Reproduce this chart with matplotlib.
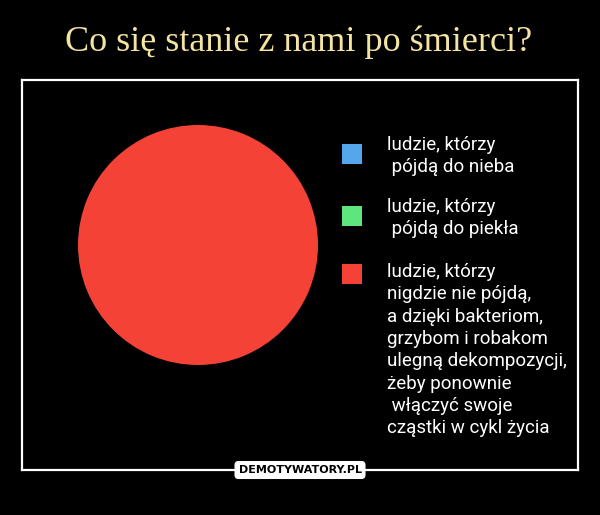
import matplotlib.pyplot as plt
from matplotlib.patches import Rectangle

# chart data
title = "Co się stanie z nami po śmierci?"
labels = [
    "ludzie, którzy\n pójdą do nieba",
    "ludzie, którzy\n pójdą do piekła",
    "ludzie, którzy\nnigdzie nie pójdą,\na dzięki bakteriom,\ngrzybom i robakom\n"
    "ulegną dekompozycji,\nżeby ponownie\n włączyć swoje\ncząstki w cykl życia",
]
values = [0, 0, 100]
colors = ["#56a6ee", "#5ee57e", "#f44336"]
watermark = "DEMOTYWATORY.PL"

W, H = 600, 515


def px(x, y):
    # pixel coords (top-left origin) -> figure fraction
    return x / W, 1 - y / H


fig = plt.figure(figsize=(6, 5.15), dpi=100, facecolor="black")

# white frame
x0, y0 = px(22, 470)
x1, y1 = px(578, 80)
frame = fig.add_axes([x0, y0, x1 - x0, y1 - y0])
frame.set_facecolor("black")
frame.set_xticks([])
frame.set_yticks([])
for s in frame.spines.values():
    s.set_color("white")
    s.set_linewidth(1.6)

# title
tx, ty = px(299, 42)
fig.text(tx, ty, title, color="#f4e4a1", fontsize=26, family="Liberation Serif",
         ha="center", va="center")

# pie fills its own axes
px0, py0 = px(78, 365)
px1, py1 = px(318, 125)
ax = fig.add_axes([px0, py0, px1 - px0, py1 - py0])
ax.pie(values, colors=colors, startangle=90, counterclock=False,
       wedgeprops=dict(linewidth=0))
ax.set_xlim(-1, 1)
ax.set_ylim(-1, 1)
ax.set_aspect("equal")

# legend drawn by hand so the squares sit next to the first lines
square_y = [154, 216, 274]
text_top = [136, 198, 263]
for lab, col, sy, ty0 in zip(labels, colors, square_y, text_top):
    sx0, sy0 = px(342, sy + 10)
    fig.patches.append(Rectangle((sx0, sy0), 20 / W, 20 / H, transform=fig.transFigure,
                                 facecolor=col, edgecolor="none"))
    lx, ly = px(387, ty0)
    fig.text(lx, ly, lab, color="white", fontsize=13.5, family="Roboto",
             ha="left", va="top", linespacing=1.31)

# watermark badge on the bottom line
bx, by = px(300, 470)
fig.text(bx, by, watermark, color="black", fontsize=8, fontweight="bold",
         family="DejaVu Sans", ha="center", va="center",
         bbox=dict(boxstyle="round,pad=0.3", facecolor="white", edgecolor="white"))

fig.savefig("out.png", dpi=100, facecolor="black")
